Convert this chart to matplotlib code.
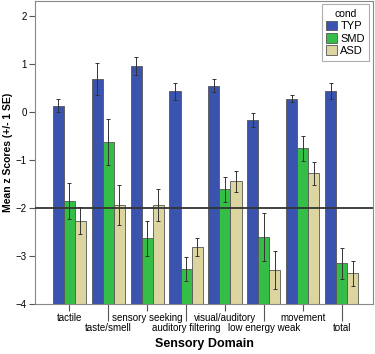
import numpy as np
import matplotlib
matplotlib.use("Agg")
import matplotlib.pyplot as plt

plt.rcParams['font.family'] = ['Liberation Sans', 'DejaVu Sans']

# data
domains = ["tactile", "taste/smell", "sensory seeking", "auditory filtering",
           "visual/auditory", "low energy weak", "movement", "total"]
groups = ["TYP", "SMD", "ASD"]

typ_mean = [0.13, 0.68, 0.96, 0.43, 0.55, -0.17, 0.28, 0.44]
typ_se = [0.14, 0.33, 0.18, 0.18, 0.14, 0.14, 0.08, 0.17]
smd_mean = [-1.85, -0.63, -2.63, -3.26, -1.61, -2.61, -0.76, -3.15]
smd_se = [0.38, 0.48, 0.37, 0.25, 0.26, 0.50, 0.27, 0.32]
asd_mean = [-2.26, -1.94, -1.94, -2.81, -1.44, -3.29, -1.28, -3.36]
asd_se = [0.28, 0.42, 0.33, 0.18, 0.22, 0.40, 0.23, 0.26]

colors = ["#3a53ae", "#34be48", "#ddd5a0"]
base = -4  # bars start at the bottom of the axis

fig = plt.figure(figsize=(3.75, 3.54), dpi=100)
ax = fig.add_axes([0.094, 0.141, 0.900, 0.856])

x = np.arange(len(domains))
w = 0.283
means = [typ_mean, smd_mean, asd_mean]
ses = [typ_se, smd_se, asd_se]
for i in range(3):
    m = np.array(means[i])
    ax.bar(x + (i - 1) * w, m - base, w, bottom=base,
           color=colors[i], edgecolor="#555555", linewidth=0.6,
           label=groups[i], zorder=2)
    ax.errorbar(x + (i - 1) * w, m, yerr=ses[i], fmt="none",
                ecolor="#333333", elinewidth=0.7, capsize=1.5,
                capthick=0.7, zorder=3)

ax.axhline(-2, color="#333333", linewidth=1.3, zorder=4)

ax.set_ylim(-4, 2.31)
ax.set_xlim(-0.872, 7.795)
ax.set_yticks([-4, -3, -2, -1, 0, 1, 2])
ax.set_yticklabels(["\u22124", "\u22123", "\u22122", "\u22121", "0", "1", "2"])

# alternate the domain labels on two rows
ax.set_xticks(x[::2], [domains[k] for k in x[::2]])
ax.set_xticks(x[1::2], [domains[k] for k in x[1::2]], minor=True)
ax.tick_params(axis="x", which="major", length=5, width=0.8,
               color="#555555", pad=1.5, labelsize=7)
ax.tick_params(axis="x", which="minor", length=12, width=0.8,
               color="#555555", pad=1.5, labelsize=7)
ax.tick_params(axis="y", length=4, width=0.8, color="#555555",
               pad=2, labelsize=7)

for s in ax.spines.values():
    s.set_color("#888888")
    s.set_linewidth(0.8)

ax.set_ylabel("Mean z Scores (+/- 1 SE)", fontsize=7.5, fontweight="bold",
              labelpad=2)
ax.set_xlabel("Sensory Domain", fontsize=9, fontweight="bold", labelpad=4)

leg = ax.legend(title="cond", loc="upper right", fontsize=8,
                title_fontsize=7.5, frameon=True, fancybox=False,
                edgecolor="#999999", handlelength=1.0, handleheight=1.0,
                handletextpad=0.3, labelspacing=0.15,
                borderaxespad=0.3, borderpad=0.4)
leg.get_frame().set_linewidth(0.8)

fig.savefig("out.png", dpi=100)
